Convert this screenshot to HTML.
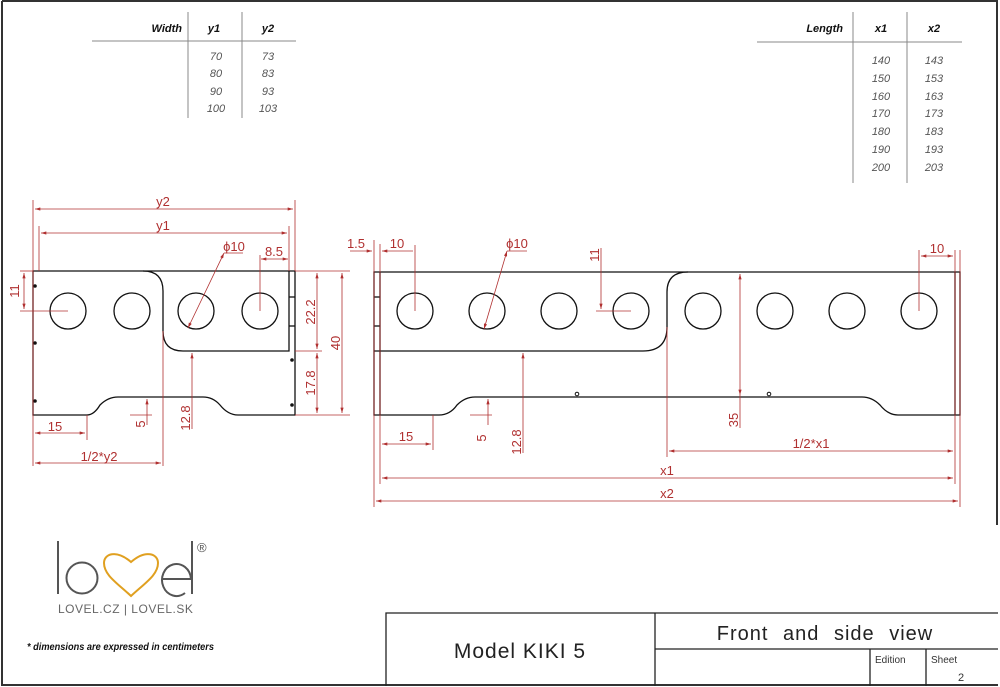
<!DOCTYPE html>
<html><head><meta charset="utf-8"><style>
html,body{margin:0;padding:0;background:#fff}
svg{display:block}
text{font-family:"Liberation Sans",sans-serif}
.r{stroke:#b03030;stroke-width:0.8;fill:none}
.k{stroke:#111;stroke-width:1.3;fill:none}
.rt{fill:#b03030;font-size:13px}
.tt{fill:#555;font-size:11px;font-style:italic}
.th{fill:#111;font-size:11px;font-style:italic;font-weight:bold}
</style></head><body>
<svg width="1000" height="687" viewBox="0 0 1000 687" xmlns="http://www.w3.org/2000/svg">
<defs>
<marker id="a" viewBox="0 0 10 6" refX="10" refY="3" markerWidth="8" markerHeight="4" orient="auto-start-reverse"><path d="M0,0 L10,3 L0,6z" fill="#b03030"/></marker>
</defs>
<path d="M2,1 H997 V525 M2,1 V685 H998" stroke="#333" stroke-width="2" fill="none"/>

<g>
<line x1="92" y1="41" x2="296" y2="41" stroke="#888"/>
<line x1="188" y1="12" x2="188" y2="118" stroke="#888"/>
<line x1="242" y1="12" x2="242" y2="118" stroke="#888"/>
<text class="th" x="182" y="32" text-anchor="end">Width</text>
<text class="th" x="214" y="32" text-anchor="middle">y1</text>
<text class="th" x="268" y="32" text-anchor="middle">y2</text>
<g class="tt" text-anchor="middle">
<text x="216" y="60">70</text><text x="268" y="60">73</text>
<text x="216" y="77">80</text><text x="268" y="77">83</text>
<text x="216" y="95">90</text><text x="268" y="95">93</text>
<text x="216" y="112">100</text><text x="268" y="112">103</text>
</g></g>

<g>
<line x1="757" y1="42" x2="962" y2="42" stroke="#888"/>
<line x1="853" y1="12" x2="853" y2="183" stroke="#888"/>
<line x1="907" y1="12" x2="907" y2="183" stroke="#888"/>
<text class="th" x="843" y="32" text-anchor="end">Length</text>
<text class="th" x="881" y="32" text-anchor="middle">x1</text>
<text class="th" x="934" y="32" text-anchor="middle">x2</text>
<g class="tt" text-anchor="middle">
<text x="881" y="64">140</text><text x="934" y="64">143</text>
<text x="881" y="82">150</text><text x="934" y="82">153</text>
<text x="881" y="100">160</text><text x="934" y="100">163</text>
<text x="881" y="117">170</text><text x="934" y="117">173</text>
<text x="881" y="135">180</text><text x="934" y="135">183</text>
<text x="881" y="153">190</text><text x="934" y="153">193</text>
<text x="881" y="171">200</text><text x="934" y="171">203</text>
</g></g>

<!-- LEFT PART -->
<g class="k">
<path d="M33,271 H295 V415 H238 Q228,415 220,405 Q213,397 203,397 H118 Q108,397 100,405 Q94,415 87,415 H33 Z"/>
<path d="M143,271 Q163,271 163,291 V331 Q163,351 183,351 H289 V271"/>
<line x1="289" y1="297" x2="295" y2="297"/>
<line x1="289" y1="326" x2="295" y2="326"/>
<circle cx="68" cy="311" r="18"/><circle cx="132" cy="311" r="18"/><circle cx="196" cy="311" r="18"/><circle cx="260" cy="311" r="18"/>
</g>
<g fill="#111"><circle cx="35" cy="286" r="1.8"/><circle cx="35" cy="343" r="1.8"/><circle cx="35" cy="401" r="1.8"/><circle cx="292" cy="360" r="1.8"/><circle cx="292" cy="405" r="1.8"/></g>
<g class="r">
<line x1="33" y1="200" x2="33" y2="466"/><line x1="295" y1="200" x2="295" y2="271"/>
<line x1="39" y1="226" x2="39" y2="271"/><line x1="289" y1="226" x2="289" y2="271"/>
<line x1="35" y1="209" x2="293" y2="209" marker-start="url(#a)" marker-end="url(#a)"/>
<line x1="41" y1="233" x2="287" y2="233" marker-start="url(#a)" marker-end="url(#a)"/>
<line x1="260" y1="255" x2="260" y2="311"/>
<line x1="261" y1="259" x2="288" y2="259" marker-start="url(#a)" marker-end="url(#a)"/>
<line x1="188" y1="328" x2="224" y2="253" marker-start="url(#a)" marker-end="url(#a)"/>
<line x1="224" y1="253" x2="243" y2="253"/>
<line x1="20" y1="271" x2="33" y2="271"/><line x1="20" y1="311" x2="68" y2="311"/>
<line x1="24" y1="273" x2="24" y2="309" marker-start="url(#a)" marker-end="url(#a)"/>
<line x1="295" y1="271" x2="350" y2="271"/><line x1="295" y1="351" x2="322" y2="351"/><line x1="295" y1="415" x2="350" y2="415"/>
<line x1="317" y1="273" x2="317" y2="349" marker-start="url(#a)" marker-end="url(#a)"/>
<line x1="317" y1="353" x2="317" y2="413" marker-start="url(#a)" marker-end="url(#a)"/>
<line x1="342" y1="273" x2="342" y2="413" marker-start="url(#a)" marker-end="url(#a)"/>
<line x1="192" y1="353" x2="192" y2="429" marker-start="url(#a)"/>
<line x1="163" y1="331" x2="163" y2="466"/>
<line x1="130" y1="415" x2="152" y2="415"/>
<line x1="147" y1="399" x2="147" y2="425" marker-start="url(#a)"/>
<line x1="87" y1="415" x2="87" y2="440"/>
<line x1="35" y1="433" x2="85" y2="433" marker-start="url(#a)" marker-end="url(#a)"/>
<line x1="35" y1="463" x2="161" y2="463" marker-start="url(#a)" marker-end="url(#a)"/>
</g>
<g class="rt">
<text x="163" y="206" text-anchor="middle">y2</text>
<text x="163" y="230" text-anchor="middle">y1</text>
<text x="234" y="251" text-anchor="middle">ϕ10</text>
<text x="274" y="256" text-anchor="middle">8.5</text>
<text x="55" y="431" text-anchor="middle">15</text>
<text x="99" y="461" text-anchor="middle">1/2*y2</text>
<text transform="translate(19,291) rotate(-90)" text-anchor="middle">11</text>
<text transform="translate(315,312) rotate(-90)" text-anchor="middle">22.2</text>
<text transform="translate(315,383) rotate(-90)" text-anchor="middle">17.8</text>
<text transform="translate(340,343) rotate(-90)" text-anchor="middle">40</text>
<text transform="translate(145,424) rotate(-90)" text-anchor="middle">5</text>
<text transform="translate(190,418) rotate(-90)" text-anchor="middle">12.8</text>
</g>

<!-- RIGHT PART -->
<g class="k">
<path d="M374,272 H960 V415 H898 Q888,415 880,405 Q872,397 862,397 H475 Q465,397 457,405 Q450,415 439,415 H374 Z"/>
<line x1="380" y1="272" x2="380" y2="415"/>
<line x1="955" y1="272" x2="955" y2="415"/>
<line x1="374" y1="297" x2="380" y2="297"/><line x1="374" y1="326" x2="380" y2="326"/>
<path d="M374,351 H643 Q667,351 667,327 V292 Q667,272 688,272"/>
<circle cx="415" cy="311" r="18"/><circle cx="487" cy="311" r="18"/><circle cx="559" cy="311" r="18"/><circle cx="631" cy="311" r="18"/>
<circle cx="703" cy="311" r="18"/><circle cx="775" cy="311" r="18"/><circle cx="847" cy="311" r="18"/><circle cx="919" cy="311" r="18"/>
</g>
<g fill="none" stroke="#111"><circle cx="577" cy="394" r="1.8"/><circle cx="769" cy="394" r="1.8"/></g>
<g class="r">
<line x1="374" y1="240" x2="374" y2="507"/><line x1="960" y1="250" x2="960" y2="507"/>
<line x1="380" y1="244" x2="380" y2="484"/><line x1="955" y1="250" x2="955" y2="484"/>
<line x1="350" y1="251" x2="372" y2="251" marker-end="url(#a)"/>
<line x1="382" y1="251" x2="413" y2="251" marker-start="url(#a)"/>
<line x1="415" y1="245" x2="415" y2="311"/>
<line x1="919" y1="250" x2="919" y2="311"/>
<line x1="921" y1="256" x2="953" y2="256" marker-start="url(#a)" marker-end="url(#a)"/>
<line x1="484" y1="329" x2="507" y2="251" marker-start="url(#a)" marker-end="url(#a)"/>
<line x1="507" y1="251" x2="527" y2="251"/>
<line x1="601" y1="248" x2="601" y2="309" marker-end="url(#a)"/>
<line x1="596" y1="311" x2="631" y2="311"/>
<line x1="740" y1="274" x2="740" y2="395" marker-start="url(#a)" marker-end="url(#a)"/>
<line x1="740" y1="395" x2="740" y2="428"/>
<line x1="523" y1="353" x2="523" y2="453" marker-start="url(#a)"/>
<line x1="470" y1="415" x2="492" y2="415"/>
<line x1="488" y1="399" x2="488" y2="425" marker-start="url(#a)"/>
<line x1="433" y1="415" x2="433" y2="450"/>
<line x1="382" y1="444" x2="431" y2="444" marker-start="url(#a)" marker-end="url(#a)"/>
<line x1="667" y1="327" x2="667" y2="457"/>
<line x1="669" y1="451" x2="953" y2="451" marker-start="url(#a)" marker-end="url(#a)"/>
<line x1="382" y1="478" x2="953" y2="478" marker-start="url(#a)" marker-end="url(#a)"/>
<line x1="376" y1="501" x2="958" y2="501" marker-start="url(#a)" marker-end="url(#a)"/>
</g>
<g class="rt">
<text x="356" y="248" text-anchor="middle">1.5</text>
<text x="397" y="248" text-anchor="middle">10</text>
<text x="517" y="248" text-anchor="middle">ϕ10</text>
<text x="937" y="253" text-anchor="middle">10</text>
<text transform="translate(599,255) rotate(-90)" text-anchor="middle">11</text>
<text transform="translate(738,420) rotate(-90)" text-anchor="middle">35</text>
<text transform="translate(486,438) rotate(-90)" text-anchor="middle">5</text>
<text transform="translate(521,442) rotate(-90)" text-anchor="middle">12.8</text>
<text x="406" y="441" text-anchor="middle">15</text>
<text x="811" y="448" text-anchor="middle">1/2*x1</text>
<text x="667" y="475" text-anchor="middle">x1</text>
<text x="667" y="498" text-anchor="middle">x2</text>
</g>

<!-- Logo -->
<g>
<line x1="58" y1="541" x2="58" y2="594" stroke="#555" stroke-width="2"/>
<circle cx="82" cy="578" r="15.5" fill="none" stroke="#555" stroke-width="2"/>
<path d="M131,596 C117,583 104,575 104,563 C104,554 116,549 131,562 C146,549 158,554 158,563 C158,575 145,583 131,596 Z" fill="none" stroke="#e0a020" stroke-width="2"/>
<path d="M162,579 H191 A14.5,16 0 1 0 185,593" fill="none" stroke="#555" stroke-width="2"/>
<line x1="192" y1="541" x2="192" y2="594" stroke="#555" stroke-width="2"/>
<text x="197" y="552" font-size="13" fill="#555">®</text>
<text x="58" y="613" font-size="12" fill="#666" letter-spacing="0.5">LOVEL.CZ  | LOVEL.SK</text>
<text x="27" y="650" font-size="10" font-style="italic" font-weight="bold" fill="#111" textLength="187" lengthAdjust="spacingAndGlyphs">* dimensions are expressed in centimeters</text>
</g>

<g stroke="#222" stroke-width="1.3" fill="none">
<path d="M386,686 V613 H998"/>
<line x1="655" y1="613" x2="655" y2="686"/>
<line x1="655" y1="649" x2="998" y2="649"/>
<line x1="870" y1="649" x2="870" y2="686"/>
<line x1="926" y1="649" x2="926" y2="686"/>
</g>
<text x="520" y="658" font-size="21" fill="#222" text-anchor="middle" letter-spacing="1">Model KIKI 5</text>
<text x="825" y="640" font-size="20" fill="#222" text-anchor="middle" word-spacing="8" letter-spacing="1">Front and side view</text>
<text x="875" y="663" font-size="10" fill="#333">Edition</text>
<text x="931" y="663" font-size="10" fill="#333">Sheet</text>
<text x="958" y="681" font-size="11" fill="#333">2</text>
</svg>
</body></html>
